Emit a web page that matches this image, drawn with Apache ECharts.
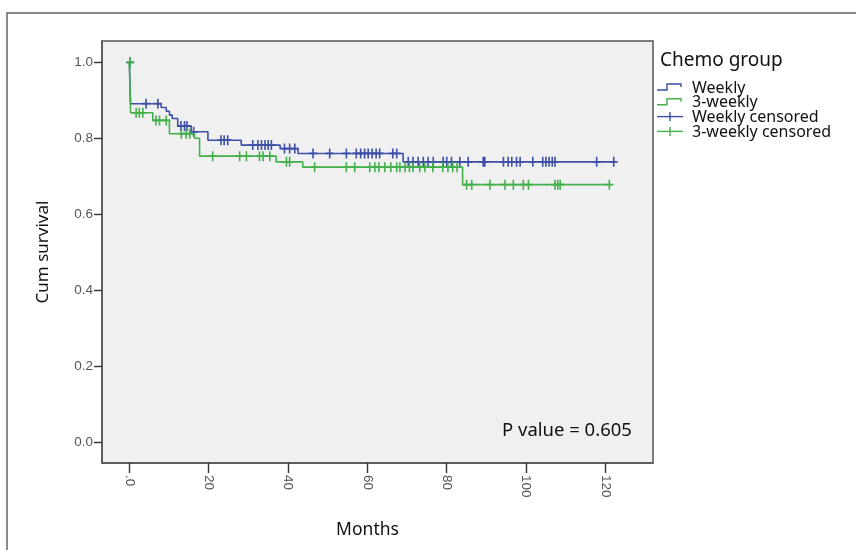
<!DOCTYPE html>
<html>
<head>
<meta charset="utf-8">
<script src="https://cdn.jsdelivr.net/npm/echarts@6/dist/echarts.min.js"></script>
<style>
  html, body { margin: 0; padding: 0; background: #fff; }
  #chart { width: 856px; height: 550px; }
</style>
</head>
<body>
<div id="chart"></div>
<script>
// Kaplan-Meier steps (months, cum survival)
var weeklyTime = [0, 0.3, 8.0, 9.3, 10.1, 10.8, 12.2, 15.6, 19.8, 28.2, 38.0, 42.5, 69.0]
var weeklySurv = [1.0, 0.891, 0.881, 0.871, 0.861, 0.852, 0.832, 0.817, 0.795, 0.782, 0.773, 0.760, 0.738]
var weeklyCensored = [0.2, 4.2, 7.2, 13.0, 13.9, 14.5, 16.2, 23.1, 23.9, 24.8, 31.1, 32.4, 33.3, 34.2,
  35.0, 35.8, 39.1, 40.4, 41.7, 46.3, 50.5, 54.7, 57.2, 58.3, 59.3, 60.2, 61.2, 62.2, 63.1, 66.4, 67.4,
  70.3, 71.5, 72.8, 74.1, 75.3, 76.6, 79.1, 80.0, 81.2, 83.3, 85.4, 89.2, 89.6, 94.3, 95.5, 96.4, 97.6,
  98.5, 101.7, 104.2, 105.0, 105.8, 106.6, 107.3, 117.8, 122.1]

var threeWeeklyTime = [0, 0.3, 5.9, 10.1, 16.4, 17.7, 37.0, 43.7, 84.0]
var threeWeeklySurv = [1.0, 0.867, 0.847, 0.812, 0.800, 0.753, 0.738, 0.724, 0.678]
var threeWeeklyCensored = [0.2, 1.7, 2.5, 3.4, 6.7, 7.6, 9.3, 13.1, 14.3, 15.2, 21.0, 27.8, 29.5, 32.8,
  33.7, 35.4, 39.6, 40.4, 46.7, 54.7, 56.8, 60.6, 61.9, 62.9, 64.4, 65.9, 67.4, 68.2, 69.5, 70.6, 71.5,
  73.2, 74.5, 76.5, 79.0, 80.3, 81.5, 82.6, 85.0, 86.3, 90.9, 94.7, 96.8, 99.3, 100.6, 107.3, 108.0,
  108.6, 121.0]

var xTicks = [0, 20, 40, 60, 80, 100, 120]
var yTicks = [0, 0.2, 0.4, 0.6, 0.8, 1.0]
var groupNames = ['Weekly', '3-weekly']

var blue = '#3d4fa6'
var green = '#43b04c'
// plus sign used for censored cases
var plusPath = 'path://M3.2,0 L4.8,0 L4.8,3.7 L8,3.7 L8,5.3 L4.8,5.3 L4.8,9 L3.2,9 L3.2,5.3 L0,5.3 L0,3.7 L3.2,3.7 Z'

// survival value of a step curve at time t
function survAt (times, surv, t) {
  var s = surv[0]
  for (var i = 0; i < times.length; i++) {
    if (times[i] <= t) s = surv[i]
  }
  return s
}

function stepData (times, surv, censored) {
  var d = times.map(function (t, i) { return [t, surv[i]] })
  var last = censored[censored.length - 1]
  d.push([last, surv[surv.length - 1]])
  return d
}

function censorData (times, surv, censored) {
  return censored.map(function (t) { return [t, survAt(times, surv, t)] })
}

var chart = echarts.init(document.getElementById('chart'))

var legendItems = [
  { name: groupNames[0], color: blue, kind: 'step' },
  { name: groupNames[1], color: green, kind: 'step' },
  { name: groupNames[0] + ' censored', color: blue, kind: 'plus' },
  { name: groupNames[1] + ' censored', color: green, kind: 'plus' }
]
var graphics = [
  // outer frame
  { type: 'polyline', shape: { points: [[7, 550], [7, 13], [856, 13]] }, style: { stroke: '#666', lineWidth: 1.5, fill: null } },
  { type: 'text', x: 660, y: 61, style: { text: 'Chemo group', font: '19px "Noto Sans"', fill: '#111', verticalAlign: 'middle' } },
  { type: 'text', x: 502, y: 431, style: { text: 'P value = 0.605', font: '18.5px "Noto Sans"', fill: '#111', verticalAlign: 'middle' } }
]
legendItems.forEach(function (it, i) {
  var y = 87 + 14.8 * i
  if (it.kind === 'step') {
    graphics.push({ type: 'polyline', shape: { points: [[657, y + 3], [667, y + 3], [667, y - 3], [681, y - 3], [681, y]] },
      style: { stroke: it.color, lineWidth: 1.4, fill: null } })
  } else {
    graphics.push({ type: 'line', shape: { x1: 657, y1: y, x2: 683, y2: y }, style: { stroke: it.color, lineWidth: 1.4 } })
    graphics.push({ type: 'line', shape: { x1: 670, y1: y - 4.5, x2: 670, y2: y + 4.5 }, style: { stroke: it.color, lineWidth: 1.4 } })
  }
  graphics.push({ type: 'text', x: 692, y: y + 1, style: { text: it.name, font: '16px "Noto Sans"', fill: '#111', verticalAlign: 'middle' } })
})

var option = {
  animation: false,
  backgroundColor: '#fff',
  grid: {
    show: true,
    left: 102,
    top: 41,
    right: 203,
    bottom: 87,
    backgroundColor: '#f0f0f0',
    borderColor: '#555',
    borderWidth: 1.5
  },
  xAxis: {
    type: 'value',
    min: -6.9,
    max: 132,
    name: 'Months',
    nameLocation: 'middle',
    nameGap: 58,
    nameTextStyle: { fontFamily: 'Noto Sans', fontSize: 17.5, color: '#111', padding: [0, 20, 0, 0] },
    axisLine: { show: true, onZero: false, lineStyle: { color: '#555', width: 1.5 } },
    axisTick: { show: true, length: 10, customValues: xTicks, lineStyle: { color: '#333', width: 1.4 } },
    axisLabel: {
      customValues: xTicks,
      rotate: -90,
      margin: 12,
      fontFamily: 'Liberation Sans',
      fontSize: 13.5,
      color: '#555',
      formatter: function (v) { return v === 0 ? '.0' : String(v) }
    },
    splitLine: { show: false }
  },
  yAxis: {
    type: 'value',
    min: -0.0545,
    max: 1.056,
    name: 'Cum survival',
    nameLocation: 'middle',
    nameGap: 50,
    nameTextStyle: { fontFamily: 'Noto Sans', fontSize: 17, color: '#111' },
    axisLine: { show: true, onZero: false, lineStyle: { color: '#555', width: 1.5 } },
    axisTick: { show: true, length: 8, customValues: yTicks, lineStyle: { color: '#333', width: 1.4 } },
    axisLabel: {
      customValues: yTicks,
      margin: 9,
      fontFamily: 'Liberation Sans',
      fontSize: 13.5,
      color: '#555',
      formatter: function (v) { return v.toFixed(1) }
    },
    splitLine: { show: false }
  },
  series: [
    {
      name: groupNames[0],
      type: 'line',
      step: 'end',
      symbol: 'none',
      data: stepData(weeklyTime, weeklySurv, weeklyCensored),
      lineStyle: { color: blue, width: 1.6 },
      z: 2
    },
    {
      name: groupNames[0] + ' censored',
      type: 'scatter',
      symbol: plusPath,
      symbolSize: [8, 10],
      data: censorData(weeklyTime, weeklySurv, weeklyCensored),
      itemStyle: { color: blue, opacity: 1 },
      z: 3
    },
    {
      name: groupNames[1],
      type: 'line',
      step: 'end',
      symbol: 'none',
      data: stepData(threeWeeklyTime, threeWeeklySurv, threeWeeklyCensored),
      lineStyle: { color: green, width: 1.6 },
      z: 4
    },
    {
      name: groupNames[1] + ' censored',
      type: 'scatter',
      symbol: plusPath,
      symbolSize: [8, 10],
      data: censorData(threeWeeklyTime, threeWeeklySurv, threeWeeklyCensored),
      itemStyle: { color: green, opacity: 1 },
      z: 5
    }
  ],
  graphic: graphics
}
chart.setOption(option)
</script>
</body>
</html>
